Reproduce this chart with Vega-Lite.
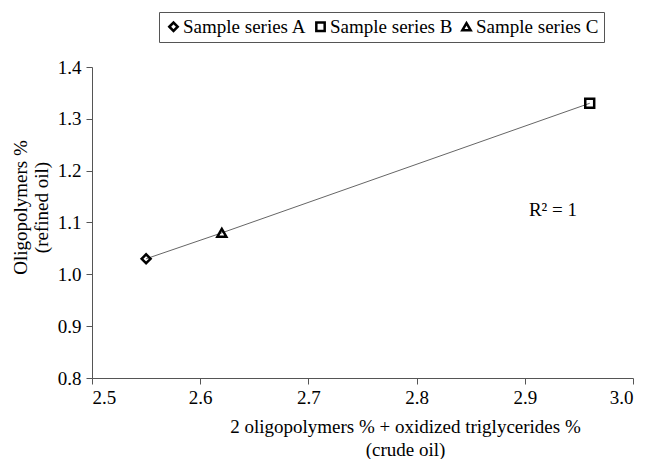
{
  "$schema": "https://vega.github.io/schema/vega-lite/v6.json",
  "width": 541,
  "height": 311,
  "autosize": {"type": "none"},
  "padding": {"left": 92, "top": 67, "right": 15, "bottom": 81},
  "background": "white",
  "config": {
    "view": {"stroke": null},
    "font": "Times New Roman",
    "style": {"guide-label": {"font": "Times New Roman", "fontSize": 19}, "guide-title": {"font": "Times New Roman", "fontSize": 19}},
    "axis": {"grid": false, "domainColor": "#555", "tickColor": "#555", "labelColor": "#000", "titleColor": "#000", "titleFontWeight": "normal", "tickSize": 6, "labelFont": "Times New Roman", "titleFont": "Times New Roman"},
    "legend": {"labelFont": "Times New Roman"}
  },
  "datasets": {
    "pts": [
      {"series": "Sample series A", "x": 2.55, "y": 1.03},
      {"series": "Sample series C", "x": 2.62, "y": 1.08},
      {"series": "Sample series B", "x": 2.96, "y": 1.33}
    ],
    "ann": [
      {"label": "R² = 1", "x": 2.926, "y": 1.124}
    ]
  },
  "layer": [
    {
      "data": {"name": "pts"},
      "mark": {"type": "line", "color": "#666", "strokeWidth": 1},
      "encoding": {
        "x": {"field": "x", "type": "quantitative", "scale": {"domain": [2.5, 3.0], "nice": false, "zero": false},
          "axis": {"values": [2.5, 2.6, 2.7, 2.8, 2.9, 3.0], "format": ".1f", "title": ["2 oligopolymers % + oxidized triglycerides %", "(crude oil)"], "titleX": 313, "titlePadding": 10, "labelPadding": 4, "titleLineHeight": 23,
            "labelFont": "Times New Roman", "titleFont": "Times New Roman", "labelFontSize": 19, "titleFontSize": 19}},
        "y": {"field": "y", "type": "quantitative", "scale": {"domain": [0.8, 1.4], "nice": false, "zero": false},
          "axis": {"values": [0.8, 0.9, 1.0, 1.1, 1.2, 1.3, 1.4], "format": ".1f", "title": ["Oligopolymers %", "(refined oil)"], "titlePadding": 6, "labelPadding": 5, "titleLineHeight": 21, "titleY": 140,
            "labelFont": "Times New Roman", "titleFont": "Times New Roman", "labelFontSize": 19, "titleFontSize": 19}},
        "order": {"field": "x", "type": "quantitative"}
      }
    },
    {
      "data": {"name": "pts"},
      "mark": {"type": "point", "filled": false, "strokeWidth": 2.5, "color": "black", "opacity": 1},
      "encoding": {
        "x": {"field": "x", "type": "quantitative"},
        "y": {"field": "y", "type": "quantitative"},
        "shape": {"field": "series", "type": "nominal",
          "scale": {"domain": ["Sample series A", "Sample series B", "Sample series C"], "range": ["diamond", "square", "triangle-up"]},
          "legend": {"title": null, "orient": "none", "direction": "horizontal", "legendX": 67, "legendY": -55,
            "strokeColor": "#555", "padding": 5, "labelFont": "Times New Roman", "labelFontSize": 19, "labelColor": "#000",
            "symbolStrokeWidth": 2.5, "symbolStrokeColor": "black", "symbolFillColor": "white", "symbolSize": 70, "columnPadding": 4, "labelOffset": 0, "labelLimit": 300}},
        "size": {"value": 80}
      }
    },
    {
      "data": {"name": "ann"},
      "mark": {"type": "text", "font": "Times New Roman", "fontSize": 19, "color": "black", "align": "center", "baseline": "middle"},
      "encoding": {
        "x": {"field": "x", "type": "quantitative"},
        "y": {"field": "y", "type": "quantitative"},
        "text": {"field": "label"}
      }
    }
  ]
}
